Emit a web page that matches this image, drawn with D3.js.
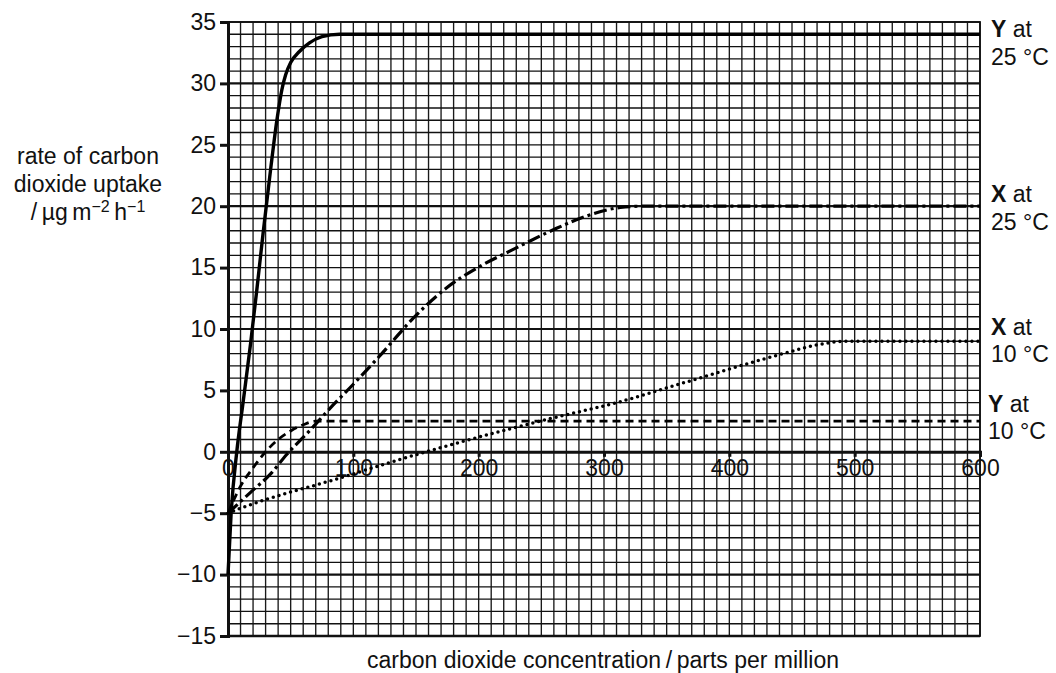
<!DOCTYPE html>
<html>
<head>
<meta charset="utf-8">
<script src="https://cdn.jsdelivr.net/npm/d3@7"></script>
<style>
    body { margin: 0; background: #fff; }
    svg text { font-family: "Liberation Sans", Arial, sans-serif; fill: #111; }
</style>
</head>
<body>
<svg id="chart" width="1056" height="673"></svg>
<script>
// carbon dioxide concentration / ppm and uptake rate for each curve
var yAt25Ppm = [0, 2.5, 7, 12, 18, 23, 28, 34, 39, 43, 46, 50, 57, 65, 75, 89, 100, 600];
var yAt25Rate = [-10, -5, 0, 4, 8.8, 13.2, 17.8, 23, 27, 29.5, 30.7, 31.7, 32.6, 33.3, 33.8, 34, 34, 34];

var xAt25Ppm = [0, 18, 34, 47, 65, 81, 100, 121, 148, 175, 201, 228, 260, 286, 313, 330, 600];
var xAt25Rate = [-5, -3.3, -1.8, -0.2, 1.7, 3.5, 5.5, 7.8, 10.9, 13.4, 15.1, 16.5, 18.1, 19.2, 19.9, 20, 20];

var xAt10Ppm = [0, 10, 87, 158, 257, 310, 363, 417, 443, 470, 492, 600];
var xAt10Rate = [-5, -4.6, -2.2, 0, 2.7, 4.0, 5.6, 7.25, 8.0, 8.7, 9.0, 9.0];

var yAt10Ppm = [0, 10, 20, 30, 40, 50, 60, 70, 600];
var yAt10Rate = [-5, -2.8, -1.3, 0, 1.0, 1.7, 2.2, 2.5, 2.5];

var xTicks = [0, 100, 200, 300, 400, 500, 600];
var yTicks = [-15, -10, -5, 0, 5, 10, 15, 20, 25, 30, 35];

var curveLabels = [
    {key: 'Y', temp: '25 °C'},
    {key: 'X', temp: '25 °C'},
    {key: 'X', temp: '10 °C'},
    {key: 'Y', temp: '10 °C'}
];

function zipSeries(xs, ys) {
    return xs.map(function(v, i) { return {ppm: v, rate: ys[i]}; });
}

var svg = d3.select('#chart');
var fontSize = 23;

var x = d3.scaleLinear().domain([0, 600]).range([228, 980]);
var y = d3.scaleLinear().domain([-15, 35]).range([636, 22]);

var grid = svg.append('g');

// graph paper, one small square = 10 ppm by 1 unit
grid.selectAll('line.v')
    .data(d3.range(0, 601, 10))
    .enter().append('line')
    .attr('x1', function(d) { return x(d); })
    .attr('x2', function(d) { return x(d); })
    .attr('y1', y(-15))
    .attr('y2', y(35))
    .attr('stroke', '#1a1a1a')
    .attr('stroke-width', 1.35);

grid.selectAll('line.h')
    .data(d3.range(-15, 36, 1))
    .enter().append('line')
    .attr('x1', x(0))
    .attr('x2', x(600))
    .attr('y1', function(d) { return y(d); })
    .attr('y2', function(d) { return y(d); })
    .attr('stroke', '#111')
    .attr('stroke-width', function(d) { return (d % 10 === 0 && d !== 0) ? 2.2 : 1.35; });

// frame
svg.append('rect')
    .attr('x', x(0))
    .attr('y', y(35))
    .attr('width', x(600) - x(0))
    .attr('height', y(-15) - y(35))
    .attr('fill', 'none')
    .attr('stroke', '#111')
    .attr('stroke-width', 1.8);

svg.append('line')
    .attr('x1', x(0)).attr('x2', x(600))
    .attr('y1', y(-15)).attr('y2', y(-15))
    .attr('stroke', '#111').attr('stroke-width', 2.4);

// axes
var yAxis = svg.append('g')
    .attr('transform', 'translate(' + x(0) + ',0)')
    .call(d3.axisLeft(y).tickValues(yTicks).tickSize(8).tickPadding(4)
        .tickFormat(function(d) { return d < 0 ? '\u2212' + Math.abs(d) : d; }));

var xAxis = svg.append('g')
    .attr('transform', 'translate(0,' + y(0) + ')')
    .call(d3.axisBottom(x).tickValues(xTicks).tickSize(5).tickPadding(3).tickFormat(d3.format('d')));

[yAxis, xAxis].forEach(function(ax) {
    ax.select('.domain').attr('stroke', '#111').attr('stroke-width', 3);
    ax.selectAll('.tick line').attr('stroke', '#111').attr('stroke-width', 3);
    ax.selectAll('.tick text')
        .attr('font-family', '"Liberation Sans", Arial, sans-serif')
        .attr('font-size', fontSize)
        .attr('fill', '#111');
});
xAxis.selectAll('.tick text').attr('dy', '0.72em');

// curves
var line = d3.line()
    .x(function(d) { return x(d.ppm); })
    .y(function(d) { return y(d.rate); })
    .curve(d3.curveMonotoneX);

var plot = svg.append('g');

plot.append('path')
    .datum(zipSeries(yAt10Ppm, yAt10Rate))
    .attr('d', line)
    .attr('fill', 'none')
    .attr('stroke', '#000')
    .attr('stroke-width', 2.8)
    .attr('stroke-dasharray', '8,5');

plot.append('path')
    .datum(zipSeries(xAt10Ppm, xAt10Rate))
    .attr('d', line)
    .attr('fill', 'none')
    .attr('stroke', '#000')
    .attr('stroke-width', 3.5)
    .attr('stroke-linecap', 'round')
    .attr('stroke-dasharray', '0,6');

plot.append('path')
    .datum(zipSeries(xAt25Ppm, xAt25Rate))
    .attr('d', line)
    .attr('fill', 'none')
    .attr('stroke', '#000')
    .attr('stroke-width', 3.2)
    .attr('stroke-dasharray', '13,4,3,4');

plot.append('path')
    .datum(zipSeries(yAt25Ppm, yAt25Rate))
    .attr('d', line)
    .attr('fill', 'none')
    .attr('stroke', '#000')
    .attr('stroke-width', 3.4)
    .attr('stroke-linejoin', 'round');

// labels on the right of each curve
var labelTop = [37, 202, 335, 412];
var labels = svg.append('g').attr('font-size', fontSize);

curveLabels.forEach(function(c, i) {
    var lx = i === 3 ? 988 : 991;
    var t = labels.append('text')
        .attr('x', lx)
        .attr('y', labelTop[i]);
    t.append('tspan').attr('font-weight', 'bold').text(c.key);
    t.append('tspan').text(' at');
    labels.append('text')
        .attr('x', lx)
        .attr('y', labelTop[i] + (i < 2 ? 28 : 27))
        .text(c.temp);
});

// axis titles
var yTitle = svg.append('text')
    .attr('text-anchor', 'middle')
    .attr('font-size', fontSize);
yTitle.append('tspan').attr('x', 88).attr('y', 164).text('rate of carbon');
yTitle.append('tspan').attr('x', 88).attr('y', 192).text('dioxide uptake');

var unit = svg.append('text')
    .attr('x', 88)
    .attr('y', 220)
    .attr('text-anchor', 'middle')
    .attr('font-size', fontSize);
unit.append('tspan').text('/\u2009\u00b5g\u2009m');
unit.append('tspan').attr('dy', -8).attr('font-size', 16).text('\u22122');
unit.append('tspan').attr('dy', 8).text('\u2009h');
unit.append('tspan').attr('dy', -8).attr('font-size', 16).text('\u22121');

svg.append('text')
    .attr('x', 603)
    .attr('y', 668)
    .attr('text-anchor', 'middle')
    .attr('font-size', fontSize)
    .text('carbon dioxide concentration\u2009/\u2009parts per million');
</script>
</body>
</html>
